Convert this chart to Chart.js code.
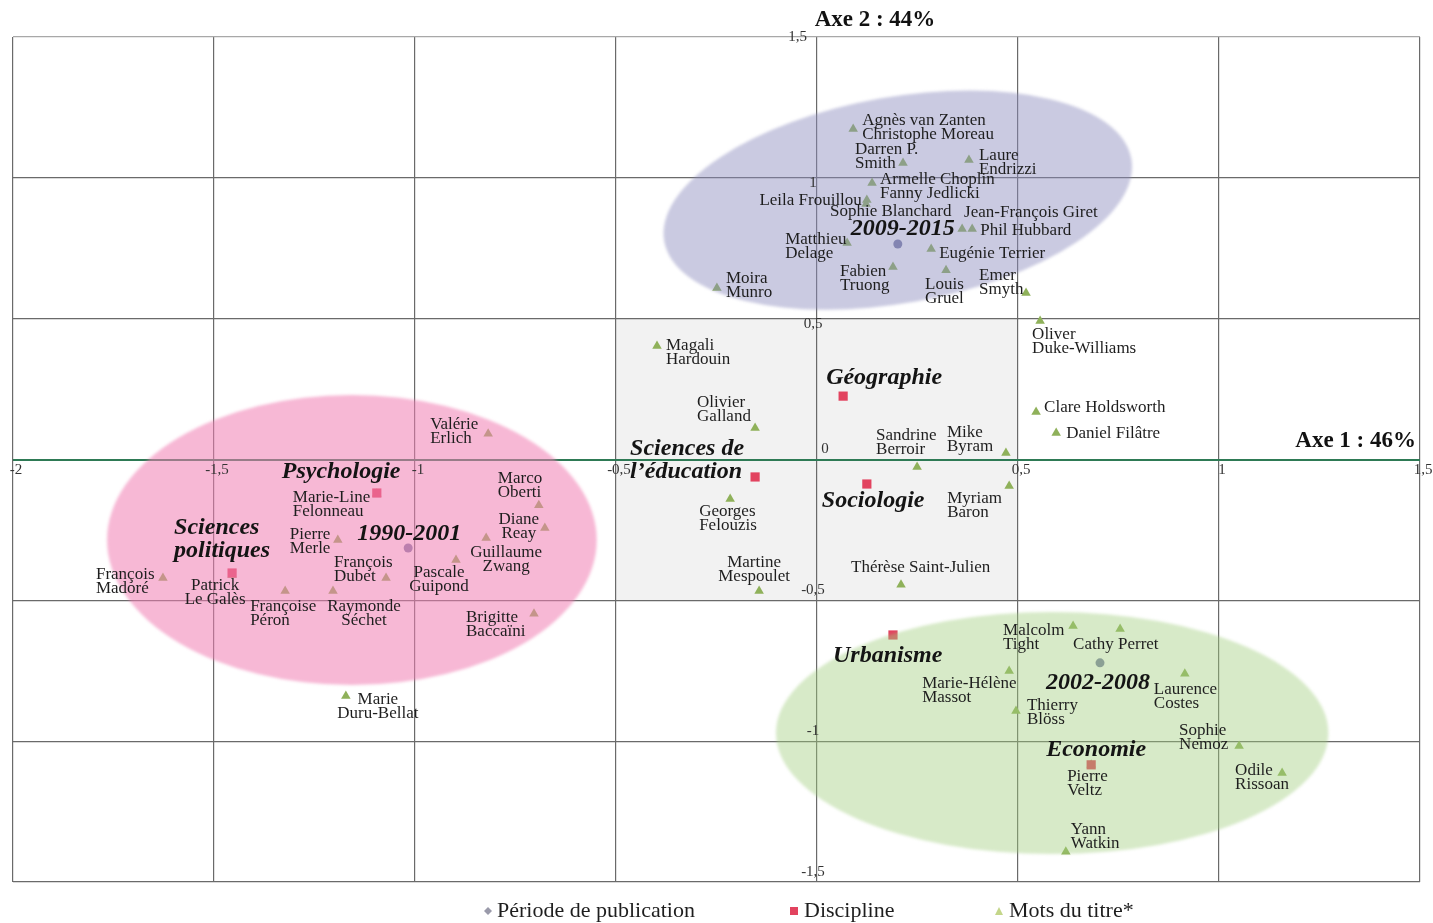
<!DOCTYPE html>
<html>
<head>
<meta charset="utf-8">
<script src="https://cdn.jsdelivr.net/npm/chart.js@4.4.1/dist/chart.umd.min.js"></script>
<style>
  html, body { margin: 0; padding: 0; background: #fff; }
  canvas { display: block; }
</style>
</head>
<body>
<canvas id="afcChart" width="1433" height="923"></canvas>
<script>
// --- data (factor coordinates) ---
const periodNames = ['2009-2015', '1990-2001', '2002-2008'];
const periodX = [0.201, -1.017, 0.704];
const periodY = [0.765, -0.314, -0.722];

const disciplineNames = [
  ['Géographie'], ['Sciences de', 'l’éducation'], ['Sociologie'], ['Psychologie'],
  ['Sciences', 'politiques'], ['Urbanisme'], ['Economie']
];
const disciplineX = [0.065, -0.154, 0.124, -1.095, -1.455, 0.189, 0.682];
const disciplineY = [0.225, -0.062, -0.087, -0.119, -0.403, -0.623, -1.084];

const titreNames = [
  ['Agnès van Zanten', 'Christophe Moreau'], ['Darren P.', 'Smith'], ['Laure', 'Endrizzi'],
  ['Armelle Choplin', 'Fanny Jedlicki'], ['Leila Frouillou'], ['Sophie Blanchard'],
  ['Jean-François Giret'], ['Phil Hubbard'], ['Matthieu', 'Delage'], ['Eugénie Terrier'],
  ['Fabien', 'Truong'], ['Louis', 'Gruel'], ['Emer', 'Smyth'], ['Moira', 'Munro'],
  ['Oliver', 'Duke-Williams'], ['Magali', 'Hardouin'], ['Olivier', 'Galland'],
  ['Clare Holdsworth'], ['Daniel Filâtre'], ['Sandrine', 'Berroir'], ['Mike', 'Byram'],
  ['Myriam', 'Baron'], ['Georges', 'Felouzis'], ['Martine', 'Mespoulet'],
  ['Thérèse Saint-Julien'], ['Valérie', 'Erlich'], ['Marco', 'Oberti'], ['Diane', 'Reay'],
  ['Guillaume', 'Zwang'], ['Pascale', 'Guipond'], ['François', 'Dubet'], ['Pierre', 'Merle'],
  ['Marie-Line', 'Felonneau'], ['Raymonde', 'Séchet'], ['Françoise', 'Péron'],
  ['Patrick', 'Le Galès'], ['François', 'Madoré'], ['Brigitte', 'Baccaïni'],
  ['Marie', 'Duru-Bellat'], ['Malcolm', 'Tight'], ['Cathy Perret'], ['Marie-Hélène', 'Massot'],
  ['Thierry', 'Blöss'], ['Laurence', 'Costes'], ['Sophie', 'Nemoz'], ['Odile', 'Rissoan'],
  ['Pierre', 'Veltz'], ['Yann', 'Watkin']
];
const titreX = [
  0.090, 0.214, 0.378, 0.137, 0.124, 0.122, 0.361, 0.386, 0.075, 0.284,
  0.189, 0.321, 0.520, -0.249, 0.555, -0.398, -0.154, 0.545, 0.595, 0.249,
  0.470, 0.478, -0.216, -0.144, 0.209, -0.818, -0.692, -0.677, -0.823, -0.898,
  -1.072, -1.192, -1.095, -1.204, -1.323, -1.455, -1.627, -0.704, -1.172, 0.637,
  0.754, 0.478, 0.495, 0.915, 1.050, 1.157, 0.682, 0.619
];
const titreY = [
  1.173, 1.053, 1.063, 0.982, 0.921, 0.907, 0.818, 0.818, 0.769, 0.747,
  0.683, 0.672, 0.591, 0.609, 0.492, 0.403, 0.112, 0.169, 0.094, -0.027,
  0.023, -0.094, -0.140, -0.467, -0.445, 0.091, -0.162, -0.243, -0.279, -0.357,
  -0.421, -0.286, -0.122, -0.467, -0.467, -0.410, -0.421, -0.548, -0.840, -0.591,
  -0.602, -0.751, -0.893, -0.761, -1.017, -1.113, -1.084, -1.393
];

// groups drawn as ellipses (centre and radii in axis units, tilt in degrees)
const groupCenterX = [0.201, -1.157, 0.585];
const groupCenterY = [0.921, -0.286, -0.971];
const groupRadiusX = [0.590, 0.609, 0.687];
const groupRadiusY = [0.366, 0.515, 0.430];
const groupTilt = [-10, 0, 0];
const groupColors = ['rgba(140,140,190,0.46)', 'rgba(240,125,178,0.55)', 'rgba(160,205,125,0.42)'];

// shaded centre box [x1, x2, y1, y2]
const centreBox = [-0.5, 0.5, -0.5, 0.5];

const axisStep = 0.5;

// --- label placement (pixel offsets from the marker: dx, dy, align) ---
const titreLabelPos = [
  [9, -9, 'l'], [-48, -13, 'l'], [10, -5, 'l'], [8, -3, 'l'], [-5, 0, 'r'], [-36, 8, 'l'],
  [2, -17, 'l'], [8, 1, 'l'], [-62, -3, 'l'], [8, 4, 'l'], [-53, 4, 'l'], [-21, 14, 'l'],
  [-47, -18, 'l'], [9, -9, 'l'], [-8, 14, 'l'], [9, 0, 'l'], [-58, -25, 'l'], [8, -4, 'l'],
  [10, 1, 'l'], [-41, -32, 'l'], [-59, -20, 'l'], [-62, 13, 'l'], [-31, 13, 'l'], [-5, -29, 'c'],
  [-50, -17, 'l'], [-58, -9, 'l'], [-41, -27, 'l'], [-26, -8, 'c'], [20, 14, 'c'], [-17, 12, 'c'],
  [-52, -16, 'l'], [-48, -6, 'l'], [-84, 4, 'l'], [31, 15, 'c'], [-35, 15, 'l'], [-17, 11, 'c'],
  [-67, -4, 'l'], [-68, 4, 'l'], [32, 3, 'c'], [-70, 5, 'l'], [-47, 15, 'l'], [-87, 12, 'l'],
  [11, -5, 'l'], [-31, 16, 'l'], [-60, -15, 'l'], [-47, -2, 'l'], [-24, 12, 'l'], [5, -22, 'l']
];
const disciplineLabelPos = [[-17, -18], [-125, -28], [-45, 17], [-95, -21], [-58, -45], [-60, 21], [-45, -15]];
const periodLabelPos = [[-47, -15], [-51, -14], [-54, 20]];

const COL_PERIOD = '#7d80a8';
const COL_DISC = '#e2435f';
const COL_TITRE = '#8fb15a';
const SERIF = '"Liberation Serif", "Times New Roman", serif';

function toPoints(xs, ys) {
  return xs.map((x, i) => ({ x: x, y: ys[i] }));
}

function fmt(v) {
  return String(Math.round(v * 10) / 10).replace('.', ',');
}

function drawLines(ctx, lines, x, y, lh, align) {
  ctx.textAlign = align === 'c' ? 'center' : (align === 'r' ? 'right' : 'left');
  ctx.textBaseline = 'middle';
  lines.forEach((t, k) => ctx.fillText(t, x, y + k * lh));
}

const decorPlugin = {
  id: 'decor',
  beforeDraw(chart) {
    const { ctx, scales: { x, y } } = chart;
    ctx.save();
    ctx.fillStyle = '#fff';
    ctx.fillRect(0, 0, chart.width, chart.height);
    const l = x.getPixelForValue(centreBox[0]);
    const r = x.getPixelForValue(centreBox[1]);
    const b = y.getPixelForValue(centreBox[2]);
    const t = y.getPixelForValue(centreBox[3]);
    ctx.fillStyle = '#f2f2f2';
    ctx.fillRect(l, t, r - l, b - t);
    ctx.restore();
  },
  afterDatasetsDraw(chart) {
    const { ctx, chartArea, scales: { x, y } } = chart;
    ctx.save();

    // translucent group ellipses over the markers (soft edge like the original)
    ctx.filter = 'blur(1.5px)';
    groupCenterX.forEach((gx, i) => {
      const cx = x.getPixelForValue(gx);
      const cy = y.getPixelForValue(groupCenterY[i]);
      const rx = Math.abs(x.getPixelForValue(gx + groupRadiusX[i]) - cx);
      const ry = Math.abs(y.getPixelForValue(groupCenterY[i] + groupRadiusY[i]) - cy);
      ctx.beginPath();
      ctx.ellipse(cx, cy, rx, ry, groupTilt[i] * Math.PI / 180, 0, Math.PI * 2);
      ctx.fillStyle = groupColors[i];
      ctx.fill();
    });
    ctx.filter = 'none';

    const x0 = x.getPixelForValue(0);
    const y0 = y.getPixelForValue(0);

    // tick labels along the axes
    ctx.fillStyle = '#333';
    ctx.font = '15px ' + SERIF;
    ctx.textAlign = 'center';
    ctx.textBaseline = 'middle';
    x.ticks.forEach((tk) => {
      if (tk.value === 0) return;
      ctx.fillText(fmt(tk.value), x.getPixelForValue(tk.value) + 3, y0 + 11);
    });
    y.ticks.forEach((tk) => {
      const py = y.getPixelForValue(tk.value);
      if (tk.value === 0) {
        ctx.fillText('0', x0 + 8, y0 - 10);
      } else if (tk.value === y.max) {
        ctx.textAlign = 'right';
        ctx.fillText(fmt(tk.value), x0 - 10, py);
        ctx.textAlign = 'center';
      } else if (tk.value > 0) {
        ctx.fillText(fmt(tk.value), x0 - 4, py + 5);
      } else {
        ctx.fillText(fmt(tk.value), x0 - 4, py - 10);
      }
    });

    // axis titles
    ctx.fillStyle = '#111';
    ctx.font = 'bold 23px ' + SERIF;
    ctx.textAlign = 'center';
    ctx.fillText('Axe 2 : 44%', x0 + 58, 20);
    ctx.textAlign = 'right';
    ctx.fillText('Axe 1 : 46%', chartArea.right - 4, y0 - 18);

    // point labels
    ctx.fillStyle = '#1e1e1e';
    ctx.font = '17px ' + SERIF;
    chart.getDatasetMeta(2).data.forEach((pt, i) => {
      const p = titreLabelPos[i];
      drawLines(ctx, titreNames[i], pt.x + p[0], pt.y + p[1], 14, p[2]);
    });

    ctx.fillStyle = '#141414';
    ctx.font = 'italic bold 24px ' + SERIF;
    chart.getDatasetMeta(1).data.forEach((pt, i) => {
      const p = disciplineLabelPos[i];
      drawLines(ctx, disciplineNames[i], pt.x + p[0], pt.y + p[1], 23, 'l');
    });
    chart.getDatasetMeta(0).data.forEach((pt, i) => {
      const p = periodLabelPos[i];
      drawLines(ctx, [periodNames[i]], pt.x + p[0], pt.y + p[1], 23, 'l');
    });

    // legend under the plot
    const ly = chartArea.bottom + 29;
    ctx.font = '22px ' + SERIF;
    ctx.fillStyle = '#1e1e1e';
    ctx.textAlign = 'left';
    ctx.fillText('Période de publication', 497, ly);
    ctx.fillText('Discipline', 804, ly);
    ctx.fillText('Mots du titre*', 1009, ly);
    ctx.fillStyle = '#9a9aaa';
    ctx.beginPath();
    ctx.moveTo(488, ly - 4); ctx.lineTo(492, ly); ctx.lineTo(488, ly + 4); ctx.lineTo(484, ly);
    ctx.fill();
    ctx.fillStyle = COL_DISC;
    ctx.fillRect(790, ly - 4, 8, 8);
    ctx.fillStyle = '#c4d68a';
    ctx.beginPath();
    ctx.moveTo(999, ly - 4); ctx.lineTo(1003, ly + 4); ctx.lineTo(995, ly + 4);
    ctx.fill();

    ctx.restore();
  }
};

const gridColor = (c) => {
  if (c.tick && c.tick.value === 0 && c.scale.axis === 'y') return '#2e7a55';
  if (c.tick && c.tick.value === c.scale.max && c.scale.axis === 'y') return '#a8a8a8';
  return '#6a6a6a';
};
const gridWidth = (c) => (c.tick && c.tick.value === 0 && c.scale.axis === 'y') ? 2 : 1.2;

new Chart(document.getElementById('afcChart'), {
  type: 'scatter',
  data: {
    datasets: [
      {
        label: 'Période de publication',
        data: toPoints(periodX, periodY),
        pointStyle: 'circle',
        pointRadius: 4.5,
        backgroundColor: COL_PERIOD,
        borderColor: COL_PERIOD,
        borderWidth: 0,
      },
      {
        label: 'Discipline',
        data: toPoints(disciplineX, disciplineY),
        pointStyle: 'rect',
        pointRadius: 6.5,
        backgroundColor: COL_DISC,
        borderColor: COL_DISC,
        borderWidth: 0,
      },
      {
        label: 'Mots du titre*',
        data: toPoints(titreX, titreY),
        pointStyle: 'triangle',
        pointRadius: 5.5,
        backgroundColor: COL_TITRE,
        borderColor: COL_TITRE,
        borderWidth: 0,
      },
    ],
  },
  options: {
    responsive: false,
    animation: false,
    events: [],
    layout: { padding: { left: 13, right: 13, top: 37, bottom: 41 } },
    plugins: { legend: { display: false }, tooltip: { enabled: false } },
    scales: {
      x: {
        type: 'linear', min: -2, max: 1.5,
        ticks: { stepSize: axisStep, display: false },
        grid: { color: gridColor, lineWidth: gridWidth, drawTicks: false },
        border: { display: false },
      },
      y: {
        type: 'linear', min: -1.5, max: 1.5,
        ticks: { stepSize: axisStep, display: false },
        grid: { color: gridColor, lineWidth: gridWidth, drawTicks: false },
        border: { display: false },
      },
    },
  },
  plugins: [decorPlugin],
});
</script>
</body>
</html>
